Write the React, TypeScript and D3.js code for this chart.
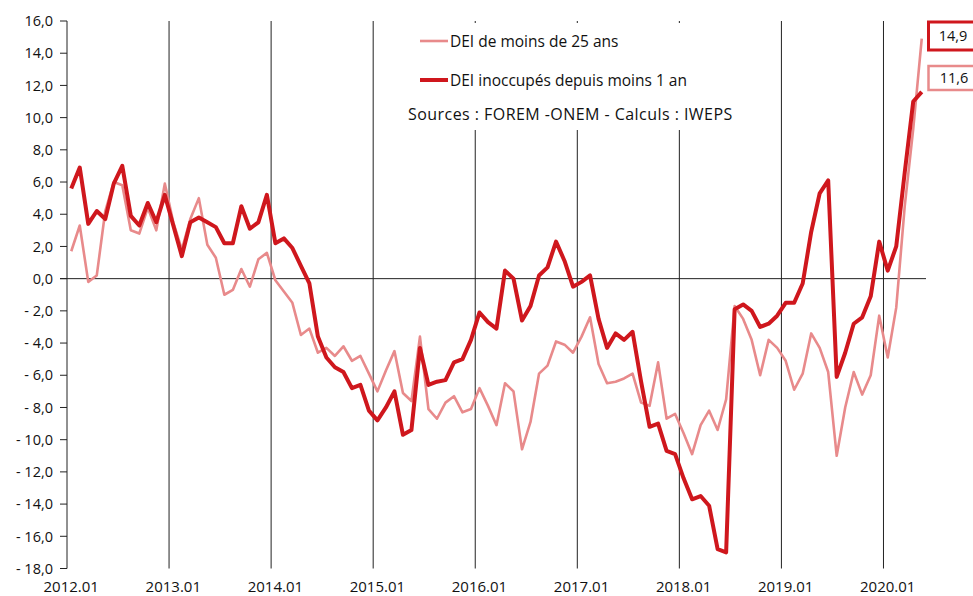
import React from "react";
import * as d3 from "d3";

const W = 973;
const H = 596;

const years = ["2012", "2013", "2014", "2015", "2016", "2017", "2018", "2019", "2020"];
const months = ["01", "02", "03", "04", "05", "06", "07", "08", "09", "10", "11", "12"];
const categories: string[] = [];
years.forEach((y) => months.forEach((m) => categories.push(`${y}.${m}`)));
categories.splice(101);

const seriesYoung = [
  1.7, 3.3, -0.2, 0.2, 4.2, 6.0, 5.8, 3.0, 2.8, 4.4, 3.0, 5.9,
  3.5, 1.8, 3.7, 5.0, 2.1, 1.3, -1.0, -0.7, 0.6, -0.5, 1.2, 1.6,
  -0.1, -0.8, -1.5, -3.5, -3.1, -4.6, -4.3, -4.8, -4.2, -5.1, -4.8, -5.9,
  -7.0, -5.7, -4.5, -7.1, -7.6, -3.6, -8.1, -8.7, -7.7, -7.3, -8.3, -8.1,
  -6.8, -7.9, -9.1, -6.5, -7.0, -10.6, -8.9, -5.9, -5.4, -3.9, -4.1, -4.6,
  -3.6, -2.4, -5.3, -6.5, -6.4, -6.2, -5.9, -7.7, -7.9, -5.2, -8.7, -8.4,
  -9.6, -10.9, -9.1, -8.2, -9.4, -7.5, -1.7, -2.5, -3.8, -6.0, -3.8, -4.3,
  -5.1, -6.9, -5.9, -3.4, -4.3, -5.8, -11.0, -8.0, -5.8, -7.2, -6.0, -2.3,
  -4.9, -1.8, 4.5, 9.3, 14.9,
];

const seriesShort = [
  5.6, 6.9, 3.4, 4.2, 3.7, 5.9, 7.0, 3.9, 3.3, 4.7, 3.5, 5.2,
  3.3, 1.4, 3.5, 3.8, 3.5, 3.2, 2.2, 2.2, 4.5, 3.1, 3.5, 5.2,
  2.2, 2.5, 1.9, 0.8, -0.3, -3.6, -4.9, -5.5, -5.8, -6.8, -6.6, -8.2,
  -8.8, -8.0, -7.0, -9.7, -9.4, -4.3, -6.6, -6.4, -6.3, -5.2, -5.0, -3.8,
  -2.1, -2.7, -3.1, 0.5, 0.0, -2.6, -1.7, 0.2, 0.7, 2.3, 1.1, -0.5,
  -0.2, 0.2, -2.5, -4.3, -3.4, -3.8, -3.3, -6.4, -9.2, -9.0, -10.7, -10.9,
  -12.4, -13.7, -13.5, -14.1, -16.8, -17.0, -1.9, -1.6, -2.0, -3.0, -2.8, -2.3,
  -1.5, -1.5, -0.3, 2.9, 5.3, 6.1, -6.1, -4.6, -2.8, -2.4, -1.1, 2.3,
  0.5, 2.0, 6.6, 11.0, 11.6,
];

const yTicks = [16, 14, 12, 10, 8, 6, 4, 2, 0, -2, -4, -6, -8, -10, -12, -14, -16, -18];
const xTickLabels = ["2012.01", "2013.01", "2014.01", "2015.01", "2016.01", "2017.01", "2018.01", "2019.01", "2020.01"];

const legendYoung = "DEI de moins de 25 ans";
const legendShort = "DEI inoccupés depuis moins 1 an";
const sourceText = "Sources : FOREM -ONEM - Calculs : IWEPS";
const lastYoung = "14,9";
const lastShort = "11,6";

const DARK = "#cf171d";
const LIGHT = "#e88a8b";
const FONT = "'Open Sans', 'Noto Sans', sans-serif";

const fmt = (v: number) => {
  const s = Math.abs(v).toFixed(1).replace(".", ",");
  return v < 0 ? `- ${s}` : s;
};

export default function App() {
  const x = d3.scaleBand<string>().domain(categories).range([67, 926]).padding(0);
  const y = d3.scaleLinear().domain([-18, 16]).range([568.5, 21]);
  const cx = (c: string) => (x(c) as number) + x.bandwidth() / 2;

  const line = d3
    .line<number>()
    .x((_, i) => cx(categories[i]))
    .y((d) => y(d));

  return (
    <svg
      width={W}
      height={H}
      style={{ position: "absolute", left: 0, top: 0, background: "#fff" }}
      fontFamily={FONT}
    >
      <rect x={0} y={0} width={W} height={H} fill="#fff" />
      {/* vertical year gridlines */}
      {xTickLabels.slice(1).map((c) => (
        <line key={c} x1={x(c)} x2={x(c)} y1={y(16)} y2={y(-18)} stroke="#222" strokeWidth={1} />
      ))}
      {/* legend box (white, covers gridlines) */}
      <rect x={400} y={23} width={360} height={107} fill="#fff" />
      {/* zero line */}
      <line x1={60} x2={926} y1={y(0)} y2={y(0)} stroke="#222" strokeWidth={1} />
      {/* y axis */}
      <line x1={67} x2={67} y1={y(16)} y2={y(-18)} stroke="#222" strokeWidth={1} />
      {yTicks.map((t) => (
        <g key={t}>
          <line x1={60} x2={67} y1={y(t)} y2={y(t)} stroke="#222" strokeWidth={1} />
          <text x={53} y={y(t)} dy="0.36em" textAnchor="end" fontSize={14.5} fontWeight={500} fill="#111">
            {fmt(t)}
          </text>
        </g>
      ))}
      {/* x labels */}
      {xTickLabels.map((c) => (
        <text key={c} x={cx(c)} y={592} textAnchor="middle" fontSize={15} fontWeight={500} fill="#111">
          {c}
        </text>
      ))}
      {/* series */}
      <path d={line(seriesYoung) || ""} fill="none" stroke={LIGHT} strokeWidth={2.6} strokeLinejoin="round" />
      <path d={line(seriesShort) || ""} fill="none" stroke={DARK} strokeWidth={4} strokeLinejoin="round" />
      {/* legend */}
      <line x1={420} x2={448} y1={41} y2={41} stroke={LIGHT} strokeWidth={2.6} />
      <text x={450} y={41} dy="0.36em" fontSize={15.5} fontWeight={500} fill="#111">{legendYoung}</text>
      <line x1={420} x2={448} y1={80} y2={80} stroke={DARK} strokeWidth={4} />
      <text x={450} y={80} dy="0.36em" fontSize={15.5} fontWeight={500} fill="#111">{legendShort}</text>
      <text x={408} y={114} dy="0.36em" fontSize={16} letterSpacing={0.45} fontWeight={500} fill="#111">{sourceText}</text>
      {/* end labels */}
      <rect x={928.5} y={22} width={60} height={28} fill="#fff" stroke={DARK} strokeWidth={3} />
      <text x={953} y={36} dy="0.36em" textAnchor="middle" fontSize={14.5} fontWeight={500} fill="#111">{lastYoung}</text>
      <rect x={928.5} y={66} width={60} height={24} fill="#fff" stroke={LIGHT} strokeWidth={2.5} />
      <text x={954} y={78} dy="0.36em" textAnchor="middle" fontSize={14.5} fontWeight={500} fill="#111">{lastShort}</text>
    </svg>
  );
}
